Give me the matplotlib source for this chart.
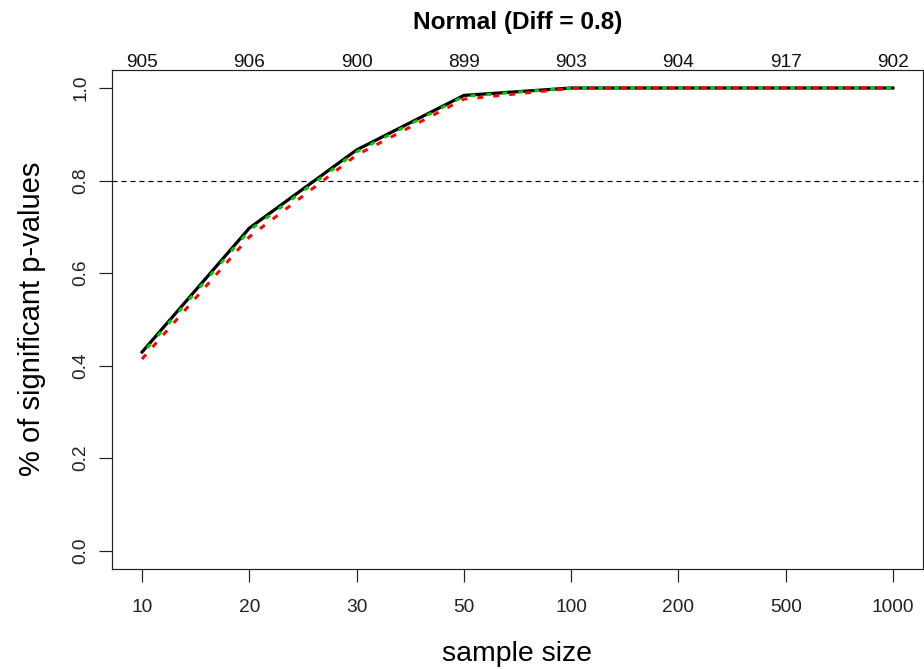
import matplotlib
matplotlib.use("Agg")
import matplotlib.pyplot as plt
from matplotlib import font_manager

# ---- data ----
sample_sizes = ['10', '20', '30', '50', '100', '200', '500', '1000']
top_counts = ['905', '906', '900', '899', '903', '904', '917', '902']
black_vals = [0.429, 0.697, 0.866, 0.984, 1.0, 1.0, 1.0, 1.0]
green_vals = [0.425, 0.692, 0.862, 0.982, 1.0, 1.0, 1.0, 1.0]
red_vals = [0.414, 0.678, 0.855, 0.976, 0.999, 1.0, 1.0, 1.0]
ref_level = 0.8
title = 'Normal (Diff = 0.8)'
xlab = 'sample size'
ylab = '% of significant p-values'

names = {f.name for f in font_manager.fontManager.ttflist}
tick_font = 'Liberation Sans Narrow' if 'Liberation Sans Narrow' in names else 'Liberation Sans'
tick_size = 15.5 if tick_font == 'Liberation Sans Narrow' else 13.8

plt.rcParams['font.family'] = ['Liberation Sans', 'DejaVu Sans']
plt.rcParams['lines.scale_dashes'] = False

W, H = 924, 669
fig = plt.figure(figsize=(W / 100, H / 100), dpi=100)
l, r, b, t = 112 / W, 923 / W, 1 - 569 / H, 1 - 69.5 / H
ax = fig.add_axes([l, b, r - l, t - b])

x = list(range(1, len(sample_sizes) + 1))
px = 1 / 1.3889  # one pixel in points

ax.plot(x, black_vals, color='black', lw=3.2 * px, solid_joinstyle='miter', zorder=3)
ax.plot(x, green_vals, color='#00cc00', lw=3 * px,
        linestyle=(8 * px, (5 * px, 11 * px)), zorder=4)
ax.plot(x, red_vals, color='#ff0000', lw=3 * px,
        linestyle=(0, (6 * px, 10 * px)), zorder=4)
ax.axhline(ref_level, color='black', lw=1.2 * px,
           linestyle=(0, (5 * px, 4 * px)), zorder=2)

ax.set_xlim(0.72, 8.28)
ax.set_ylim(-0.04, 1.04)
ax.set_xticks(x)
ax.set_xticklabels(sample_sizes, fontfamily=tick_font, fontsize=tick_size, color='#111111')
yt = [0.0, 0.2, 0.4, 0.6, 0.8, 1.0]
ax.set_yticks(yt)
ax.set_yticklabels([f'{v:.1f}' for v in yt], rotation=90, va='center',
                   fontfamily=tick_font, fontsize=tick_size, color='#111111')
ax.tick_params(axis='x', length=13 * px, width=1.2 * px, pad=17 * px, colors='#222222')
ax.tick_params(axis='y', length=13 * px, width=1.2 * px, pad=10 * px, colors='#222222')
for sp in ax.spines.values():
    sp.set_linewidth(1.2 * px)
    sp.set_color('#222222')

sec = ax.secondary_xaxis('top')
sec.set_xticks(x)
sec.set_xticklabels(top_counts, fontfamily=tick_font, fontsize=tick_size, color='#111111')
sec.tick_params(length=0, pad=-1)
sec.spines['top'].set_visible(False)

fig.text((l + r) / 2, 1 - 23 / H, title, ha='center', va='center',
         fontsize=17.6, fontweight='bold')
fig.text((l + r) / 2, 1 - 661 / H, xlab, ha='center', va='baseline', fontsize=20.5)
fig.text(32 / W, (b + t) / 2, ylab, ha='center', va='center', rotation=90, fontsize=21)

fig.savefig('out.png', dpi=100)
